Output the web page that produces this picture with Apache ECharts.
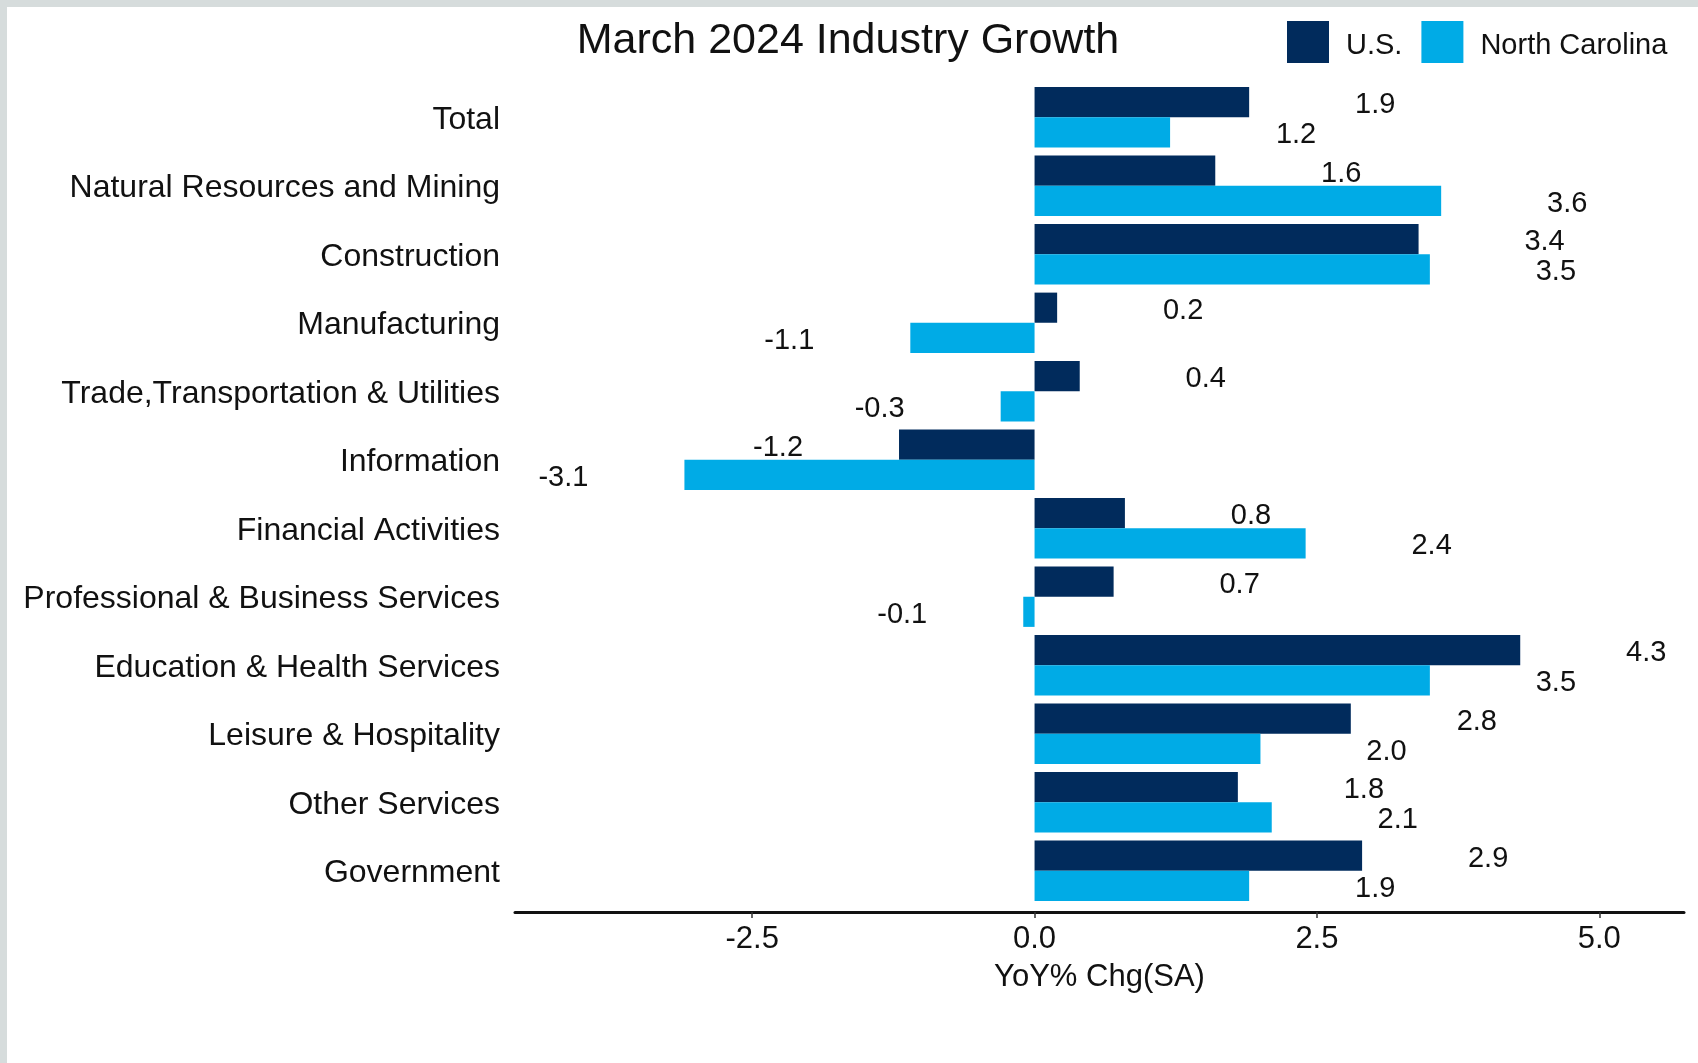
<!DOCTYPE html>
<html>
<head>
<meta charset="utf-8">
<script src="https://cdn.jsdelivr.net/npm/echarts@6/dist/echarts.min.js"></script>
<style>
html,body{margin:0;padding:0;background:#fff;}
#chart{width:1698px;height:1063px;}
</style>
</head>
<body>
<div id="chart"></div>
<script>
const categories = ["Total","Natural Resources and Mining","Construction","Manufacturing","Trade,Transportation & Utilities","Information","Financial Activities","Professional & Business Services","Education & Health Services","Leisure & Hospitality","Other Services","Government"];
const usValues = [1.9,1.6,3.4,0.2,0.4,-1.2,0.8,0.7,4.3,2.8,1.8,2.9];
const ncValues = [1.2,3.6,3.5,-1.1,-0.3,-3.1,2.4,-0.1,3.5,2.0,2.1,1.9];
const tickValues = [-2.5,0,2.5,5];
const seriesNames = ["U.S.","North Carolina"];
const colors = ["#012B5C","#00ABE6"];

const FONT = "Liberation Sans, Arial, sans-serif";

function toData(vals){
  return vals.map(v => ({
    value: v,
    label: v < 0
      ? {position:'left', distance:121, align:'center'}
      : {position:'right', distance:126, align:'center'}
  }));
}

const chart = echarts.init(document.getElementById('chart'), null, {renderer:'canvas'});
const option = {
  backgroundColor:'#ffffff',
  animation:false,
  textStyle:{fontFamily:FONT},
  title:{
    text:'March 2024 Industry Growth',
    left:843, top:15, textAlign:'center',
    textStyle:{fontFamily:FONT,fontSize:43,fontWeight:'normal',color:'#111'}
  },
  legend:{
    data:seriesNames,
    left:1282, top:16,
    itemWidth:42, itemHeight:42, itemGap:19,
    icon:'rect',
    formatter:n=>'{a|'+n+'}',
    textStyle:{fontFamily:FONT,fontSize:29,color:'#111',
      rich:{a:{fontFamily:FONT,fontSize:29,color:'#111',padding:[7,0,0,12]}}}
  },
  grid:{left:515,right:14,top:83,bottom:158,containLabel:false},
  xAxis:{
    type:'value',
    min:-4.6, max:5.75,
    offset:7,
    name:'YoY% Chg(SA)',
    nameLocation:'middle',
    nameGap:50,
    nameTextStyle:{fontFamily:FONT,fontSize:31,color:'#111'},
    splitLine:{show:false},
    axisLine:{show:true,onZero:false,lineStyle:{color:'#111',width:3}},
    axisTick:{show:true,length:6,lineStyle:{color:'#333',width:1.5},customValues:tickValues},
    axisLabel:{fontFamily:FONT,fontSize:31,color:'#111',margin:12,customValues:tickValues,
      formatter:v=>v.toFixed(1)}
  },
  yAxis:{
    type:'category',
    data:categories,
    inverse:true,
    axisLine:{show:false},
    axisTick:{show:false},
    splitLine:{show:false},
    axisLabel:{fontFamily:FONT,fontSize:32,color:'#111',margin:15,
      formatter:v=>'{a|'+v+'}',
      rich:{a:{fontFamily:FONT,fontSize:32,color:'#111',padding:[5,0,0,0]}}}
  },
  series: seriesNames.map((name,i)=>({
    name:name,
    type:'bar',
    data:toData(i===0?usValues:ncValues),
    itemStyle:{color:colors[i]},
    barGap:'0%',
    barCategoryGap:'12%',
    label:{show:true,fontFamily:FONT,fontSize:29,color:'#111',offset:[0,3],
      formatter:p=>Number(p.value).toFixed(1)}
  })),
  graphic:[
    {type:'rect',shape:{x:0,y:0,width:1698,height:7},style:{fill:'#d6dcdc'},silent:true},
    {type:'rect',shape:{x:0,y:0,width:7,height:1063},style:{fill:'#d6dcdc'},silent:true}
  ]
};
chart.setOption(option);
</script>
</body>
</html>
